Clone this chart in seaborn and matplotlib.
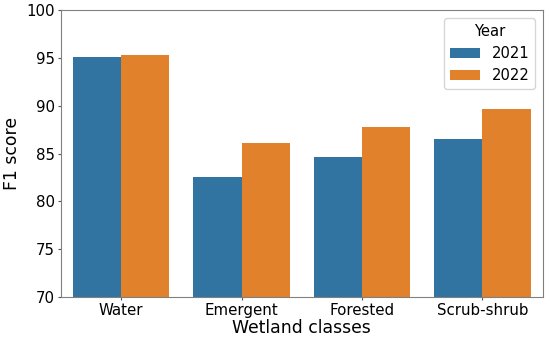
import matplotlib
matplotlib.use("Agg")
import matplotlib.pyplot as plt
import seaborn as sns
import pandas as pd

classes = ["Water", "Emergent", "Forested", "Scrub-shrub"]
years = ["2021", "2022"]
f1_2021 = [95.14, 82.57, 84.63, 86.51]
f1_2022 = [95.35, 86.13, 87.77, 89.63]

df = pd.DataFrame({
    "Wetland classes": classes * 2,
    "F1 score": f1_2021 + f1_2022,
    "Year": [years[0]] * 4 + [years[1]] * 4,
})

fig = plt.figure(figsize=(5.5, 3.42), dpi=100)
ax = fig.add_axes([61/550, 1 - 296.7/342, (542.7-61)/550, (296.7-10.3)/342])
sns.barplot(data=df, x="Wetland classes", y="F1 score", hue="Year",
            palette=["#1f77b4", "#ff7f0e"], ax=ax)
ax.set_ylim(70, 100)
ax.tick_params(labelsize=10.8, length=2.5, pad=2, color="#555555")
ax.set_xlabel("Wetland classes", fontsize=12.4, labelpad=1)
ax.set_ylabel("F1 score", fontsize=12.4, labelpad=4)
for s in ax.spines.values():
    s.set_color("#808080")
leg = ax.legend(title="Year", fontsize=10.6, title_fontsize=10.6, loc="upper right")
fig.savefig("out.png", dpi=100)
